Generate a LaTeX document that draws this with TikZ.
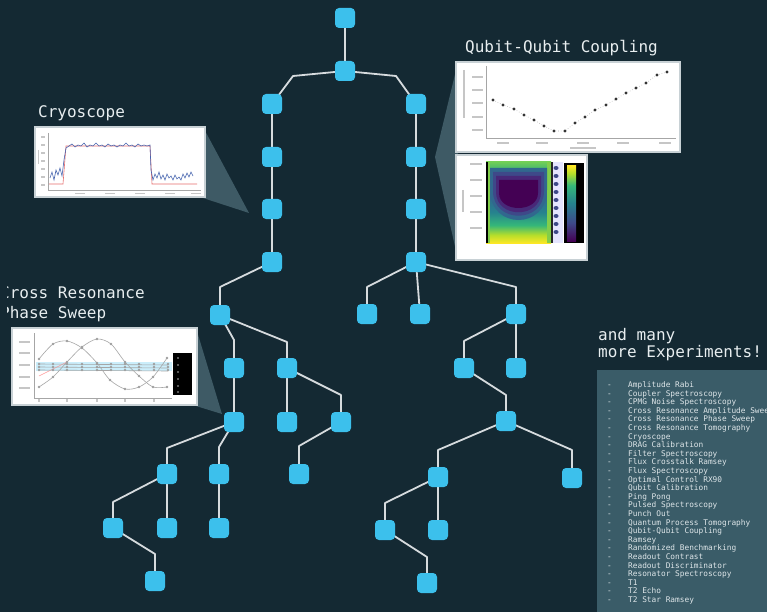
\documentclass[tikz,border=0pt]{standalone}
\usepackage{fontspec}
\newfontfamily\monofont{DejaVu Sans Mono}
\pgfdeclarelayer{bglayer}
\pgfdeclarelayer{edgelayer}
\pgfsetlayers{bglayer,edgelayer,main}

\definecolor{bgnavy}{RGB}{20,41,51}
\definecolor{nodeblue}{RGB}{60,192,236}
\definecolor{edgegray}{RGB}{214,219,222}
\definecolor{calloutgray}{RGB}{62,90,101}
\definecolor{listpanel}{RGB}{58,92,104}
\definecolor{titlewhite}{RGB}{232,238,240}
\definecolor{listtext}{RGB}{222,230,233}
\definecolor{boxborder}{RGB}{200,209,213}
\definecolor{cryoblue}{RGB}{70,100,175}
\definecolor{cryored}{RGB}{230,110,110}
\definecolor{vir0}{RGB}{68,1,84}
\definecolor{vir1}{RGB}{72,40,120}
\definecolor{vir2}{RGB}{62,73,137}
\definecolor{vir3}{RGB}{49,104,142}
\definecolor{vir4}{RGB}{38,130,142}
\definecolor{vir5}{RGB}{31,158,137}
\definecolor{vir6}{RGB}{53,183,121}
\definecolor{vir7}{RGB}{110,206,88}
\definecolor{vir8}{RGB}{181,222,43}
\definecolor{vir9}{RGB}{253,231,37}

% heat map background profile (bottom to top)
\pgfdeclareverticalshading{heatcolumn}{100bp}{color(0bp)=(vir9); color(25bp)=(vir9); color(30bp)=(vir8); color(36bp)=(vir6); color(44bp)=(vir4); color(54bp)=(vir3); color(66bp)=(vir5); color(75bp)=(vir7); color(100bp)=(vir7)}
% colour bar
\pgfdeclareverticalshading{viridisbar}{100bp}{color(0bp)=(vir0); color(25bp)=(vir0); color(37bp)=(vir2); color(50bp)=(vir4); color(62bp)=(vir6); color(70bp)=(vir8); color(75bp)=(vir9); color(100bp)=(vir9)}

\begin{document}
\begin{tikzpicture}[x=1pt,y=-1pt,
  expnode/.style={rectangle, rounded corners=4pt, fill=nodeblue, minimum size=20pt, inner sep=0pt},
  link/.style={draw=edgegray, line width=1.8pt, line join=round},
  title/.style={font=\monofont\fontsize{16}{19}\selectfont, text=titlewhite, anchor=base west, inner sep=0pt},
  listitem/.style={font=\monofont\fontsize{7.8}{9}\selectfont, text=listtext, anchor=base west, inner sep=0pt},
  plotbox/.style={fill=white, draw=boxborder, line width=2pt},
  callout/.style={fill=calloutgray},
  axisline/.style={draw=gray!70, line width=0.5pt},
  ticklab/.style={draw=gray!45, line width=1.2pt},
  marker/.style={fill=gray!75, draw=none},
  curve/.style={draw=gray!70, line width=0.6pt}
]
\useasboundingbox (0,0) rectangle (767,612);
\begin{pgfonlayer}{bglayer}
  \fill[bgnavy] (0,0) rectangle (767,612);
\end{pgfonlayer}

% ---------- experiment nodes ----------
\node[expnode] (n0) at (345,18) {};
\node[expnode] (n1) at (345,71) {};
\node[expnode] (L1) at (272,104) {};
\node[expnode] (L2) at (272,157) {};
\node[expnode] (L3) at (272,209) {};
\node[expnode] (L4) at (272,262) {};
\node[expnode] (R1) at (416,104) {};
\node[expnode] (R2) at (416,157) {};
\node[expnode] (R3) at (416,209) {};
\node[expnode] (R4) at (416,262) {};
\node[expnode] (A) at (220,315) {};
\node[expnode] (B) at (234,368) {};
\node[expnode] (C) at (287,368) {};
\node[expnode] (D) at (234,422) {};
\node[expnode] (E) at (287,422) {};
\node[expnode] (F) at (341,422) {};
\node[expnode] (G) at (299,474) {};
\node[expnode] (H) at (219,474) {};
\node[expnode] (I) at (219,528) {};
\node[expnode] (J) at (167,474) {};
\node[expnode] (K) at (113,528) {};
\node[expnode] (L) at (167,528) {};
\node[expnode] (M) at (155,581) {};
\node[expnode] (N) at (367,314) {};
\node[expnode] (O) at (420,314) {};
\node[expnode] (P) at (516,314) {};
\node[expnode] (Q) at (464,368) {};
\node[expnode] (R) at (516,368) {};
\node[expnode] (S) at (506,421) {};
\node[expnode] (T) at (438,477) {};
\node[expnode] (U) at (572,478) {};
\node[expnode] (V) at (385,530) {};
\node[expnode] (W) at (438,530) {};
\node[expnode] (X) at (427,583) {};

% ---------- connectors ----------
\begin{pgfonlayer}{edgelayer}
  \draw[link] (n0.center) -- (n1.center);
  \draw[link] (n1.center) -- (293,76) -- (L1.center);
  \draw[link] (n1.center) -- (396,76) -- (R1.center);
  \draw[link] (L1.center) -- (L2.center) -- (L3.center) -- (L4.center);
  \draw[link] (R1.center) -- (R2.center) -- (R3.center) -- (R4.center);
  \draw[link] (L4.center) -- (220,287) -- (A.center);
  \draw[link] (A.center) -- (234,340) -- (B.center);
  \draw[link] (A.center) -- (287,342) -- (C.center);
  \draw[link] (B.center) -- (D.center);
  \draw[link] (C.center) -- (E.center);
  \draw[link] (C.center) -- (341,395) -- (F.center);
  \draw[link] (F.center) -- (299,446) -- (G.center);
  \draw[link] (D.center) -- (167,448) -- (J.center);
  \draw[link] (D.center) -- (219,447) -- (H.center);
  \draw[link] (H.center) -- (I.center);
  \draw[link] (J.center) -- (113,502) -- (K.center);
  \draw[link] (J.center) -- (L.center);
  \draw[link] (K.center) -- (155,554) -- (M.center);
  \draw[link] (R4.center) -- (367,287) -- (N.center);
  \draw[link] (R4.center) -- (O.center);
  \draw[link] (R4.center) -- (516,287) -- (P.center);
  \draw[link] (P.center) -- (464,341) -- (Q.center);
  \draw[link] (P.center) -- (R.center);
  \draw[link] (Q.center) -- (506,395) -- (S.center);
  \draw[link] (S.center) -- (438,450) -- (T.center);
  \draw[link] (S.center) -- (572,450) -- (U.center);
  \draw[link] (T.center) -- (385,503) -- (V.center);
  \draw[link] (T.center) -- (W.center);
  \draw[link] (V.center) -- (427,557) -- (X.center);
\end{pgfonlayer}

% ---------- Cryoscope panel ----------
\node[title] (cryotitle) at (38,118) {Cryoscope};
\fill[callout] (203,127) -- (249,213) -- (203,198) -- cycle;
\draw[plotbox] (35,127) rectangle (205,197);
\draw[axisline] (48,133) -- (48,190) -- (201,190);
\foreach \ty in {137,145,153,161,169,177,185} \draw[ticklab] (41,\ty) -- (45,\ty);
\draw[ticklab] (38.5,150) -- (38.5,164);
\foreach \tx in {80,110,140,170,196} \draw[ticklab] (\tx-5,193.5) -- (\tx+5,193.5);
\draw[cryored, line width=0.6pt] (49,184) -- (63,184) -- (66,146) -- (150,146) -- (152,184) -- (197,184);
\draw[cryoblue, line width=0.6pt] plot coordinates {(50,178) (52,172) (54,180) (56,170) (58,175) (60,168) (62,176) (64,160) (66,148) (69,146) (72,144) (75,147) (78,145) (81,146) (84,143) (87,147) (90,145) (93,146) (96,143) (99,146) (102,145) (105,147) (108,144) (111,146) (114,145) (117,147) (120,145) (123,146) (126,143) (129,146) (132,145) (135,147) (138,144) (141,146) (144,145) (147,146) (150,145) (151,170) (153,180) (155,174) (157,178) (159,172) (161,179) (163,175) (165,180) (167,174) (169,178) (171,176) (173,180) (175,175) (177,179) (179,177) (181,180) (183,174) (185,178) (187,173) (189,177) (191,172) (193,176)};

% ---------- Qubit-Qubit Coupling panel ----------
\node[title] (qqtitle) at (465,53) {Qubit-Qubit Coupling};
\fill[callout] (458,62) -- (435,157) -- (458,260) -- cycle;
\draw[plotbox] (456,62) rectangle (680,152);
\draw[axisline] (486,66) -- (486,138) -- (676,138);
\foreach \ty in {77,90,103,117,130} \draw[ticklab] (472,\ty) -- (483,\ty);
\draw[ticklab] (464,70) -- (464,118);
\foreach \tx in {503,542,583,623,665} \draw[ticklab] (\tx-6,143) -- (\tx+6,143);
\draw[ticklab] (570,148) -- (596,148);
\draw[gray!60, dotted, line width=0.6pt] plot coordinates {(493,100) (503,105) (514,109) (524,115) (534,120) (544,126) (554,131) (565,131) (575,123) (585,117) (595,110) (606,105) (616,99) (626,93) (636,88) (646,83) (657,75) (667,72)};
\foreach \px/\py in {493/100,503/105,514/109,524/115,534/120,544/126,554/131,565/131,575/123,585/117,595/110,606/105,616/99,626/93,636/88,646/83,657/75,667/72}
  \fill[gray!40!black] (\px,\py) circle (1.6pt);

\draw[plotbox] (456,155) rectangle (587,260);
\foreach \ty in {164,180,196,212,228} \draw[ticklab] (470,\ty) -- (482,\ty);
\draw[ticklab] (463,190) -- (463,212);
\shade[shading=heatcolumn] (486,162) rectangle (551,243);
% bowl-shaped minimum of the map, drawn as nested contours
\fill[vir8!60!vir6] (486,162) rectangle (490,243);
\fill[vir8!60!vir6] (547,162) rectangle (551,243);
\fill[vir3] (490,168) -- (547,168) -- (547,190) .. controls (547,230) and (490,230) .. (490,190) -- cycle;
\fill[vir2] (493,172) -- (544,172) -- (544,191) .. controls (544,224) and (493,224) .. (493,191) -- cycle;
\fill[vir1] (496,176) -- (541,176) -- (541,192) .. controls (541,219) and (496,219) .. (496,192) -- cycle;
\fill[vir0] (499,180) -- (538,180) -- (538,193) .. controls (538,213) and (499,213) .. (499,193) -- cycle;
\fill[black] (486,162) rectangle (487.5,243);
\fill[blue!10] (551,162) rectangle (563,243);
\foreach \wy in {168,176,184,192,200,208,216,224,232}
  \fill[vir2] (556,\wy) ellipse (2.5pt and 2pt);
\fill[black!85] (551,162) rectangle (552.5,243);
\fill[black] (564,163) rectangle (584,243);
\shade[shading=viridisbar] (567,166) rectangle (576,241);

% ---------- Cross Resonance Phase Sweep panel ----------
\begin{scope}
  \clip (7,270) rectangle (300,330);
  \node[title] (crtitle1) at (0,298) {Cross Resonance};
  \node[title] (crtitle2) at (0,318) {Phase Sweep};
\end{scope}
\fill[callout] (196,328) -- (222,414) -- (196,406) -- cycle;
\draw[plotbox] (12,328) rectangle (197,405);
\draw[axisline] (34,333) -- (34,398) -- (172,398);
\foreach \ty in {342,353,365,377,388} \draw[ticklab] (19,\ty) -- (30,\ty);
\foreach \tx in {39,67,97,125,154} \draw[ticklab] (\tx,399) -- (\tx,402);
\fill[cyan!25, opacity=0.8] (36,362) rectangle (172,371);
\draw[red!40, line width=0.5pt] (39,376) -- (67,362);
\foreach \fy in {364,367,370} {
  \draw[curve] (39,\fy) -- (168,\fy+1);
  \foreach \fx in {39,53,67,82,97,111,125,139,154,168} \fill[marker] (\fx,\fy) circle (1.3pt);
}
\draw[curve] plot[smooth] coordinates {(39,359) (53,344) (67,341) (82,348) (97,363) (110,380) (125,389) (139,387) (153,377) (167,358)};
\draw[curve] plot[smooth] coordinates {(39,387) (53,377) (67,362) (82,347) (97,339) (111,344) (125,362) (139,376) (153,387) (167,387)};
\foreach \px/\py in {39/359,53/344,67/341,82/348,97/363,110/380,125/389,139/387,153/377,167/358,39/387,53/377,67/362,82/347,97/339,111/344,125/362,139/376,153/387,167/387}
  \fill[marker] (\px,\py) circle (1.4pt);
\fill[black] (173,353) rectangle (192,395);
\foreach \ly in {358,365,372,379,386,392} \fill[gray!60] (178,\ly) circle (0.9pt);

% ---------- experiment list ----------
\node[title] (moretitle1) at (598,340) {and many};
\node[title] (moretitle2) at (598,357) {more Experiments!};
\fill[listpanel] (597,370) rectangle (767,612);
\foreach \entry [count=\i from 0] in {Amplitude Rabi, Coupler Spectroscopy, CPMG Noise Spectroscopy, Cross Resonance Amplitude Sweep, Cross Resonance Phase Sweep, Cross Resonance Tomography, Cryoscope, DRAG Calibration, Filter Spectroscopy, Flux Crosstalk Ramsey, Flux Spectroscopy, Optimal Control RX90, Qubit Calibration, Ping Pong, Pulsed Spectroscopy, Punch Out, Quantum Process Tomography, Qubit-Qubit Coupling, Ramsey, Randomized Benchmarking, Readout Contrast, Readout Discriminator, Resonator Spectroscopy, T1, T2 Echo, T2 Star Ramsey} {
  \node[listitem] (bullet\i) at (607,387.5+8.6*\i) {-};
  \node[listitem] (entry\i) at (628,387.5+8.6*\i) {\entry};
}
\end{tikzpicture}
\end{document}
